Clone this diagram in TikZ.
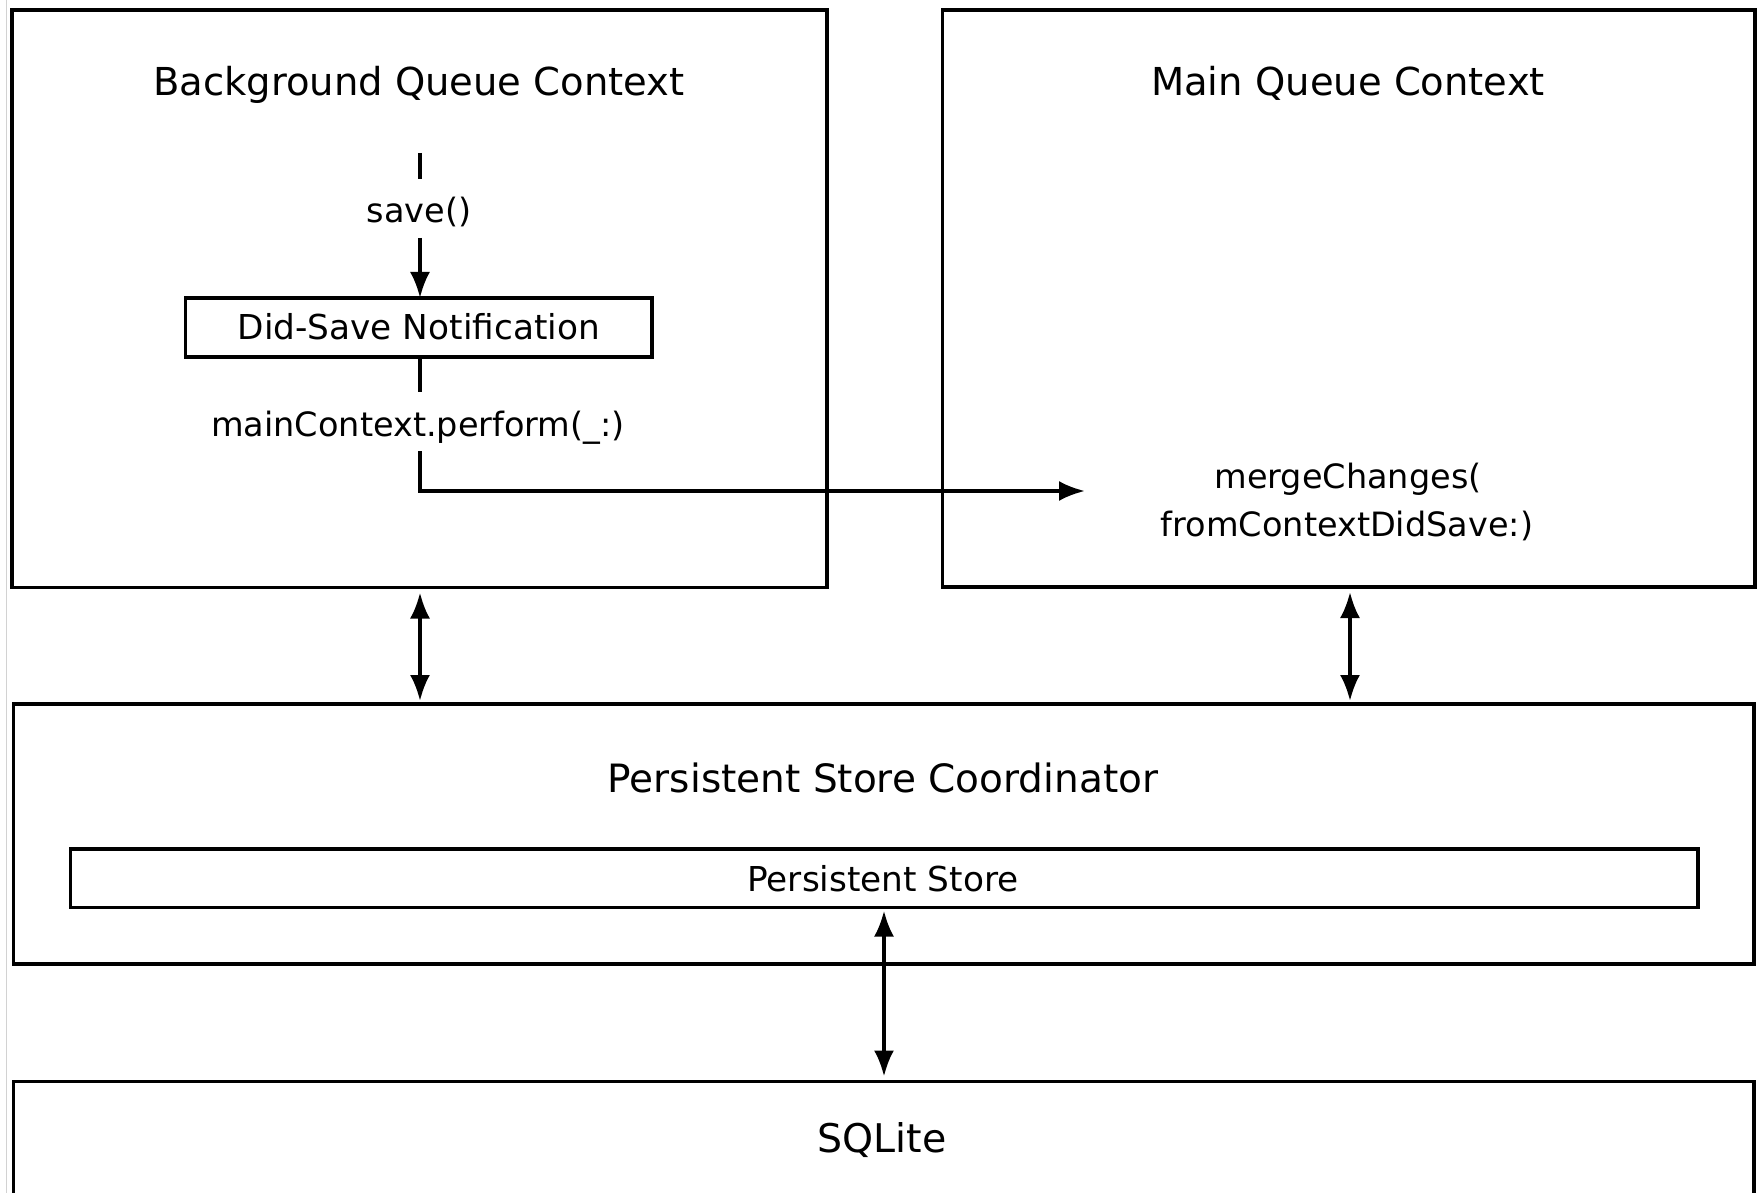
\documentclass[tikz,border=0pt]{standalone}
\usepackage{fontspec}
\setmainfont{DejaVu Sans}
\usetikzlibrary{arrows.meta}
\begin{document}
\begin{tikzpicture}[x=1pt,y=-1pt,
  box/.style={draw, line width=3.2pt, inner sep=0pt, outer sep=0pt},
  big/.style={font=\fontsize{38.5}{46}\selectfont, inner sep=0pt, anchor=base},
  small/.style={font=\fontsize{33.5}{48}\selectfont, inner sep=0pt, anchor=base},
  conn/.style={line width=3.6pt},
  tip/.tip={Latex[length=26pt,width=20pt]},
  arr/.style={conn, -tip},
  darr/.style={conn, tip-tip},
]
\useasboundingbox (0,0) rectangle (1757,1193);
\clip (0,0) rectangle (1757,1193);
\fill[white] (0,0) rectangle (1757,1193);
\draw[gray!35, line width=1.5pt] (6.5,0) -- (6.5,1193);

% context boxes
\node[box, minimum width=815pt, minimum height=577.5pt] (bg) at (419.5,298.75) {};
\node[box, minimum width=812.5pt, minimum height=577pt] (mq) at (1348.75,298.5) {};
\node[big] (bgt) at (419,96) {Background Queue Context};
\node[big] (mqt) at (1348,96) {Main Queue Context};

% save flow
\coordinate (s0) at (420,153);
\coordinate (s1) at (420,179);
\node[small] (save) at (419,223) {save()};
\coordinate (s2) at (420,238);
\node[box, minimum width=466.5pt, minimum height=59pt] (ds) at (418.75,327.5) {};
\node[small, font=\fontsize{34.3}{48}\selectfont] (dst) at (418.75,339) {Did-Save Notification};
\draw[conn] (s0) -- (s1);
\draw[arr] (s2) -- (ds.north -| s2);
\coordinate (p0) at (420,392);
\draw[conn] (ds.south -| p0) -- (p0);
\node[small] (perf) at (418,436) {mainContext.perform(\_:)};
\coordinate (p1) at (420,451);
\coordinate (p2) at (420,491);
\coordinate (p3) at (1085,491);
\draw[arr] (p1) -- (p2) -- (p3);
\node[small] (mc1) at (1348,488) {mergeChanges(};
\node[small] (mc2) at (1347,536) {fromContextDidSave:)};

% coordinator
\node[box, minimum width=1740.6pt, minimum height=260pt] (psc) at (883.7,834) {};
\node[big, font=\fontsize{39}{46}\selectfont] (psct) at (883,792) {Persistent Store Coordinator};
\node[box, minimum width=1627.4pt, minimum height=58.6pt] (ps) at (884.3,878.3) {};
\node[small, font=\fontsize{34.3}{48}\selectfont] (pst) at (883,891) {Persistent Store};

% sqlite
\node[box, minimum width=1740.6pt, minimum height=160pt] (sql) at (883.7,1161.5) {};
\node[big, font=\fontsize{39.5}{46}\selectfont] (sqlt) at (882,1152) {SQLite};

% double arrows
\coordinate (a1) at (420,0);
\coordinate (a2) at (1350,0);
\coordinate (a3) at (884,0);
\draw[darr, shorten <=5pt, shorten >=3pt] (bg.south -| a1) -- (psc.north -| a1);
\draw[darr, shorten <=5pt, shorten >=3pt] (mq.south -| a2) -- (psc.north -| a2);
\draw[darr, shorten <=3pt, shorten >=5pt] (ps.south -| a3) -- (sql.north -| a3);
\end{tikzpicture}
\end{document}
